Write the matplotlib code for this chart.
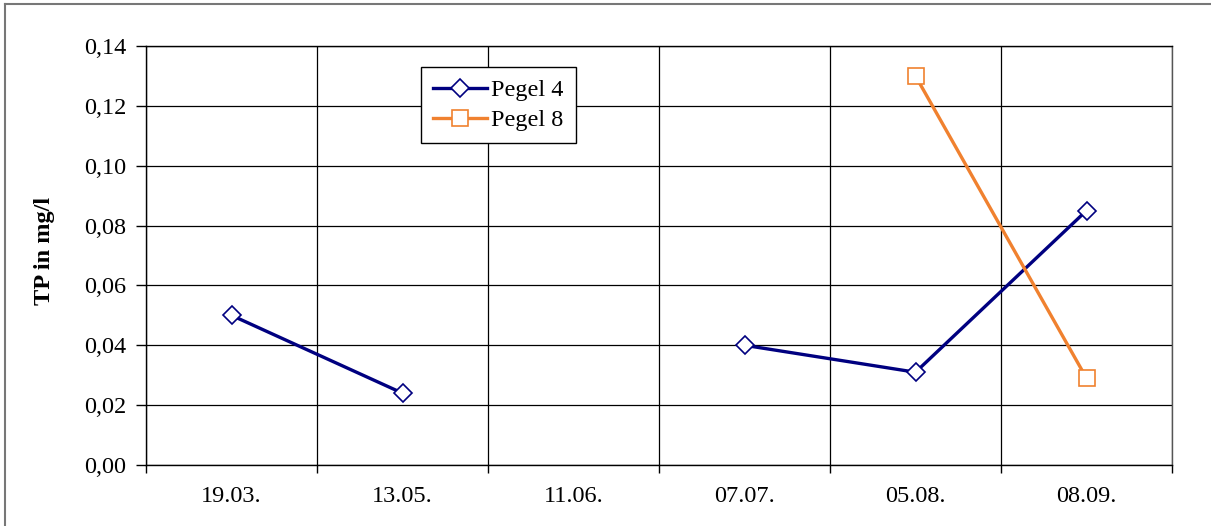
import numpy as np
import matplotlib.pyplot as plt
from matplotlib.lines import Line2D

dates = ["19.03.", "13.05.", "11.06.", "07.07.", "05.08.", "08.09."]
pegel4 = [0.050, 0.024, np.nan, 0.040, 0.031, 0.085]
pegel8 = [np.nan, np.nan, np.nan, np.nan, 0.130, 0.029]

plt.rcParams['font.family'] = ['Liberation Serif', 'DejaVu Serif']
fs = 17.5

fig = plt.figure(figsize=(12.11, 5.26), dpi=100)
ax = fig.add_axes([146/1211, 1 - 465/526, (1172 - 146)/1211, (465 - 46)/526])

x = np.arange(len(dates))
ax.plot(x, pegel4, color="#000080", lw=2.4, marker="D", ms=9, mfc="white",
        mec="#000080", mew=1.2, label="Pegel 4")
ax.plot(x, pegel8, color="#F0812F", lw=2.4, marker="s", ms=12, mfc="white",
        mec="#F0812F", mew=1.2, label="Pegel 8")

ax.set_xlim(-0.5, len(dates) - 0.5)
ax.set_ylim(0, 0.14)
yt = np.arange(0, 0.141, 0.02)
ax.set_yticks(yt)
ax.set_yticklabels([("%.2f" % v).replace(".", ",") for v in yt])
ax.set_xticks(np.arange(-0.5, len(dates)), minor=False)
ax.set_xticklabels([""] * (len(dates) + 1))
ax.set_xticks(x, minor=True)
ax.set_xticklabels(dates, minor=True)
ax.tick_params(axis="x", which="minor", length=0, pad=15, labelsize=fs)
ax.tick_params(axis="x", which="major", length=6, width=1, direction="out")
ax.tick_params(axis="y", length=7, width=1, direction="out", labelsize=fs, pad=7)
ax.grid(True, which="major", color="black", lw=0.9)
ax.set_axisbelow(True)
for s in ax.spines.values():
    s.set_color("black")
    s.set_linewidth(1.0)
ax.spines["right"].set_color("#555555")

ax.set_ylabel("TP in mg/l", fontsize=fs, fontweight="bold")
ax.yaxis.set_label_coords(-0.0887, 0.51)

leg = ax.legend(loc="upper left", bbox_to_anchor=((421 - 146)/1026, 1 - (67 - 46)/419),
                fontsize=fs, frameon=True, fancybox=False, edgecolor="black",
                framealpha=1, borderpad=0.5, handlelength=2.2, handletextpad=0.2,
                labelspacing=0.33, borderaxespad=0)
leg.get_frame().set_linewidth(1.0)

# outer chart border
fig.add_artist(Line2D([5/1211, 5/1211], [0, 1 - 4/526], color="#777777", lw=1.5))
fig.add_artist(Line2D([5/1211, 1], [1 - 4/526, 1 - 4/526], color="#777777", lw=1.5))

fig.savefig("out.png", dpi=100)
